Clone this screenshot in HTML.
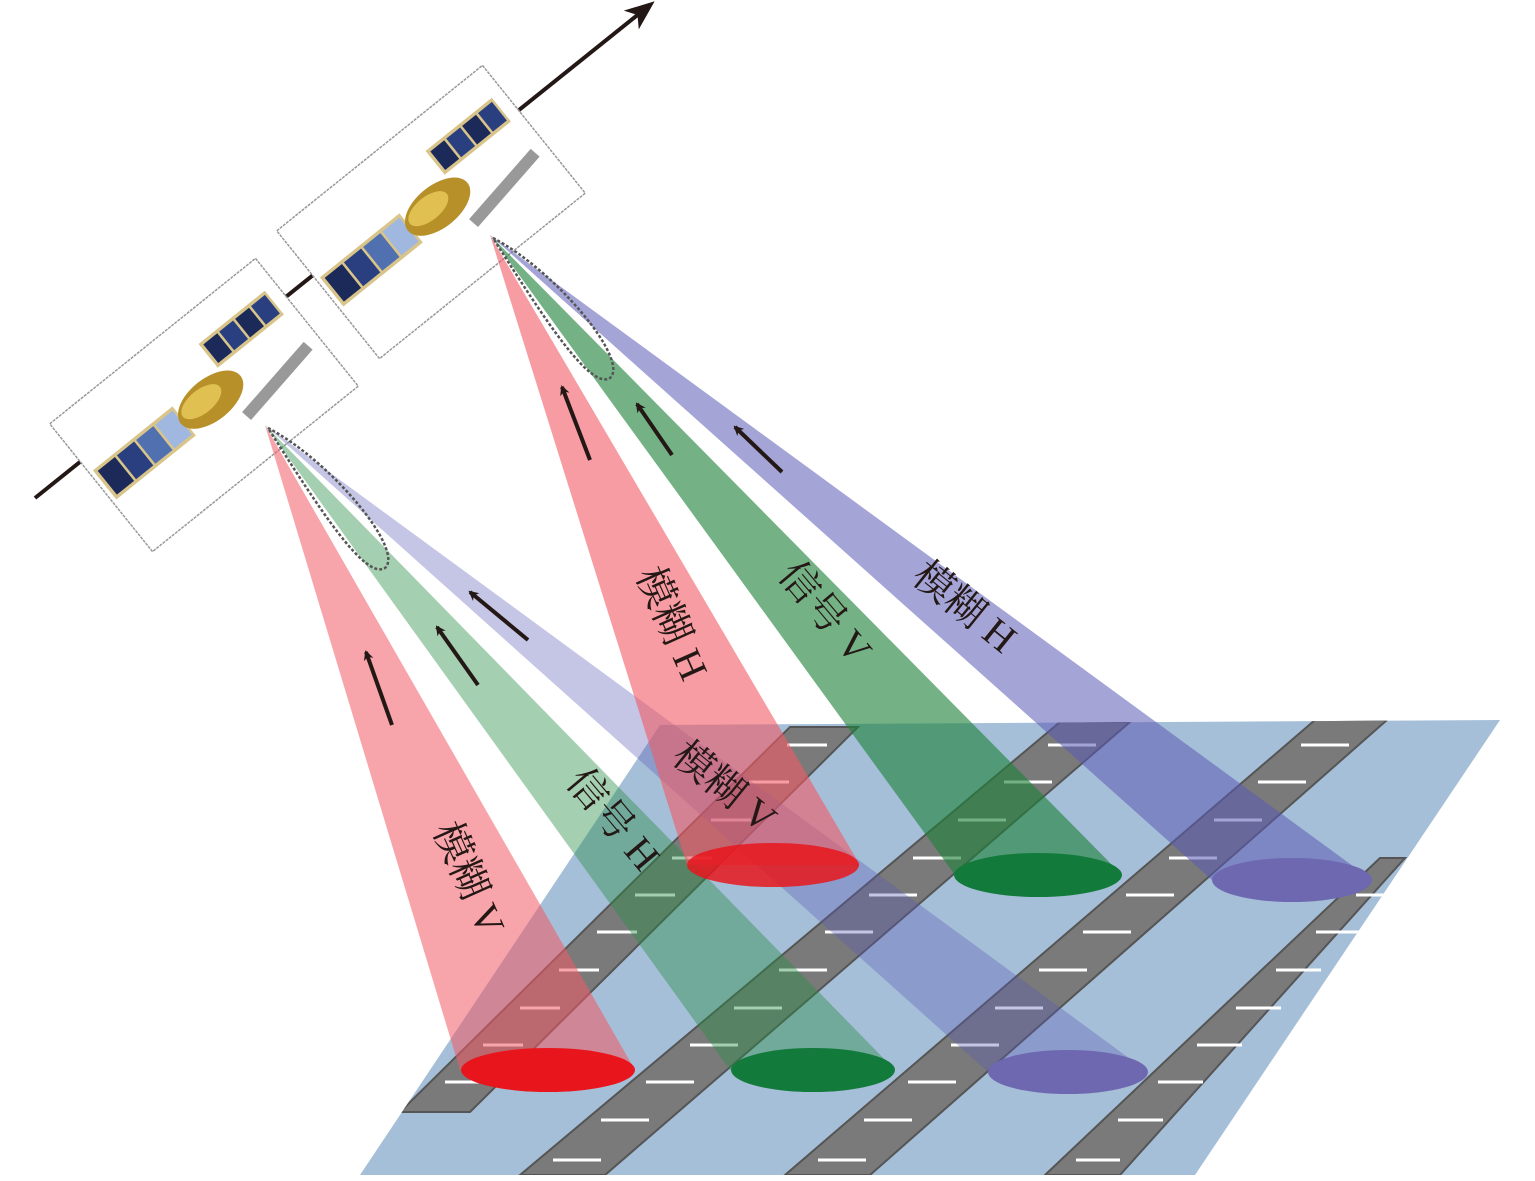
<!DOCTYPE html>
<html><head><meta charset="utf-8"><style>html,body{margin:0;padding:0;background:#fff}svg{display:block}</style></head>
<body>
<svg width="1535" height="1181" viewBox="0 0 1535 1181" xmlns="http://www.w3.org/2000/svg" font-family="'Liberation Serif','Noto Serif CJK SC',serif">
<defs>
<marker id="ah" markerWidth="10" markerHeight="10" refX="8" refY="5" orient="auto" markerUnits="userSpaceOnUse" viewBox="0 0 10 10"><path d="M0,0 L10,5 L0,10 L3,5 z" fill="#231815"/></marker>
<marker id="ah2" markerWidth="30" markerHeight="30" refX="24" refY="15" orient="auto" markerUnits="userSpaceOnUse" viewBox="0 0 30 30"><path d="M0,3 L30,15 L0,27 L8,15 z" fill="#231815"/></marker>
<clipPath id="gc"><polygon points="360,1175 1195,1175 1500,720 660,725"/></clipPath>
<g id="sat">
  <rect x="-150" y="-22" width="120" height="44" fill="#d9c58a"/>
  <rect x="-146" y="-18" width="26" height="36" fill="#1c2a5a"/>
  <rect x="-117" y="-18" width="26" height="36" fill="#2a3f80"/>
  <rect x="-88" y="-18" width="26" height="36" fill="#5070b0"/>
  <rect x="-59" y="-18" width="26" height="36" fill="#a0b8e0"/>
  <rect x="-30" y="-4" width="20" height="8" fill="#888"/>
  <rect x="40" y="-60" width="100" height="36" fill="#d9c58a"/>
  <rect x="44" y="-56" width="21" height="28" fill="#1c2a5a"/>
  <rect x="68" y="-56" width="21" height="28" fill="#2a3f80"/>
  <rect x="92" y="-56" width="21" height="28" fill="#1c2a5a"/>
  <rect x="116" y="-56" width="21" height="28" fill="#2a3f80"/>
  <ellipse cx="10" cy="0" rx="45" ry="25" fill="#b8902a"/>
  <ellipse cx="0" cy="-5" rx="28" ry="14" fill="#e0c050"/>
  <rect x="30" y="25" width="110" height="14" fill="#999" transform="rotate(-10 85 32)"/>
</g>
</defs>

<polygon points="360,1175 1195,1175 1500,720 660,725" fill="#a6bfd8"/>
<g clip-path="url(#gc)">
  <polygon points="400,1112 470,1112 858,727 790,727" fill="#7a7a7a" stroke="#555" stroke-width="2"/>
  <polygon points="520,1175 605,1175 1130,722 1060,722" fill="#7a7a7a" stroke="#555" stroke-width="2"/>
  <polygon points="785,1175 870,1175 1387,720 1315,720" fill="#7a7a7a" stroke="#555" stroke-width="2"/>
  <polygon points="1045,1175 1120,1175 1405,858 1380,858" fill="#7a7a7a" stroke="#555" stroke-width="2"/>
  <g stroke="#fff" stroke-width="3">
    <line x1="445" y1="1082" x2="485" y2="1082"/><line x1="483" y1="1045" x2="523" y2="1045"/><line x1="520" y1="1008" x2="560" y2="1008"/><line x1="559" y1="970" x2="599" y2="970"/><line x1="597" y1="932" x2="637" y2="932"/><line x1="635" y1="895" x2="675" y2="895"/><line x1="672" y1="858" x2="712" y2="858"/><line x1="711" y1="820" x2="751" y2="820"/><line x1="749" y1="782" x2="789" y2="782"/><line x1="787" y1="745" x2="827" y2="745"/>
    <line x1="553" y1="1160" x2="601" y2="1160"/><line x1="601" y1="1120" x2="649" y2="1120"/><line x1="646" y1="1082" x2="694" y2="1082"/><line x1="690" y1="1045" x2="738" y2="1045"/><line x1="734" y1="1008" x2="782" y2="1008"/><line x1="779" y1="970" x2="827" y2="970"/><line x1="825" y1="932" x2="873" y2="932"/><line x1="869" y1="895" x2="917" y2="895"/><line x1="913" y1="858" x2="961" y2="858"/><line x1="958" y1="820" x2="1006" y2="820"/><line x1="1004" y1="782" x2="1052" y2="782"/><line x1="1048" y1="745" x2="1096" y2="745"/>
    <line x1="818" y1="1160" x2="866" y2="1160"/><line x1="864" y1="1120" x2="912" y2="1120"/><line x1="908" y1="1082" x2="956" y2="1082"/><line x1="951" y1="1045" x2="999" y2="1045"/><line x1="995" y1="1008" x2="1043" y2="1008"/><line x1="1039" y1="970" x2="1087" y2="970"/><line x1="1083" y1="932" x2="1131" y2="932"/><line x1="1126" y1="895" x2="1174" y2="895"/><line x1="1169" y1="858" x2="1217" y2="858"/><line x1="1214" y1="820" x2="1262" y2="820"/><line x1="1258" y1="782" x2="1306" y2="782"/><line x1="1301" y1="745" x2="1349" y2="745"/>
    <line x1="1076" y1="1160" x2="1120" y2="1160"/><line x1="1118" y1="1120" x2="1163" y2="1120"/><line x1="1158" y1="1082" x2="1203" y2="1082"/><line x1="1197" y1="1045" x2="1242" y2="1045"/><line x1="1236" y1="1008" x2="1281" y2="1008"/><line x1="1276" y1="970" x2="1321" y2="970"/><line x1="1316" y1="932" x2="1361" y2="932"/><line x1="1356" y1="895" x2="1395" y2="895"/>
  </g>
</g>

<line x1="35" y1="498" x2="650" y2="5" stroke="#231815" stroke-width="4" marker-end="url(#ah2)"/>

<g transform="translate(204,405) rotate(-38.8)">
  <rect x="-132" y="-82" width="264" height="164" fill="#fff" stroke="#999" stroke-width="1.5" stroke-dasharray="3,1"/>
  <g transform="scale(0.85)"><use href="#sat"/></g>
</g>
<g transform="translate(431,212) rotate(-38.8)">
  <rect x="-132" y="-82" width="264" height="164" fill="#fff" stroke="#999" stroke-width="1.5" stroke-dasharray="3,1"/>
  <g transform="scale(0.85)"><use href="#sat"/></g>
</g>

<polygon points="265,425 460,1070 635,1070" fill="rgb(240,90,100)" opacity="0.55"/>
<polygon points="265,425 730,1070 895,1070" fill="rgb(40,140,70)" opacity="0.42"/>
<polygon points="265,425 988,1072 1148,1072" fill="rgb(90,90,180)" opacity="0.35"/>
<ellipse cx="548" cy="1070" rx="87" ry="22" fill="#e8161c"/>
<ellipse cx="813" cy="1070" rx="82" ry="22" fill="#127a3a"/>
<ellipse cx="1068" cy="1072" rx="80" ry="22" fill="#6e68b0"/>
<path d="M268,428 C330,460 405,550 385,568 C365,580 320,510 268,428" fill="none" stroke="#555" stroke-width="2.5" stroke-dasharray="3,2"/>

<polygon points="490,235 687,865 860,865" fill="rgb(240,90,100)" opacity="0.6"/>
<polygon points="490,235 955,875 1122,875" fill="rgb(30,130,60)" opacity="0.62"/>
<polygon points="490,235 1212,880 1372,880" fill="rgb(90,90,180)" opacity="0.55"/>
<ellipse cx="773" cy="865" rx="86" ry="22" fill="#e8161c" opacity="0.85"/>
<ellipse cx="1038" cy="875" rx="84" ry="22" fill="#127a3a"/>
<ellipse cx="1292" cy="880" rx="80" ry="22" fill="#6e68b0"/>
<path d="M493,238 C555,270 630,360 610,378 C590,390 545,320 493,238" fill="none" stroke="#555" stroke-width="2.5" stroke-dasharray="3,2"/>

<g stroke="#231815" stroke-width="4" marker-end="url(#ah)">
<line x1="392" y1="725" x2="366" y2="652"/>
<line x1="478" y1="685" x2="437" y2="627"/>
<line x1="528" y1="640" x2="470" y2="592"/>
<line x1="590" y1="460" x2="562" y2="387"/>
<line x1="672" y1="455" x2="637" y2="404"/>
<line x1="782" y1="472" x2="735" y2="427"/>
</g>

<g font-size="40" fill="#231815" text-anchor="middle" dominant-baseline="middle">
<text transform="translate(465,880) rotate(66)">模糊 V</text>
<text transform="translate(610,822) rotate(50)">信号 H</text>
<text transform="translate(722,790) rotate(39)">模糊 V</text>
<text transform="translate(668,625) rotate(66)">模糊 H</text>
<text transform="translate(822,615) rotate(50)">信号 V</text>
<text transform="translate(962,610) rotate(39)">模糊 H</text>
</g>
</svg>
</body></html>
